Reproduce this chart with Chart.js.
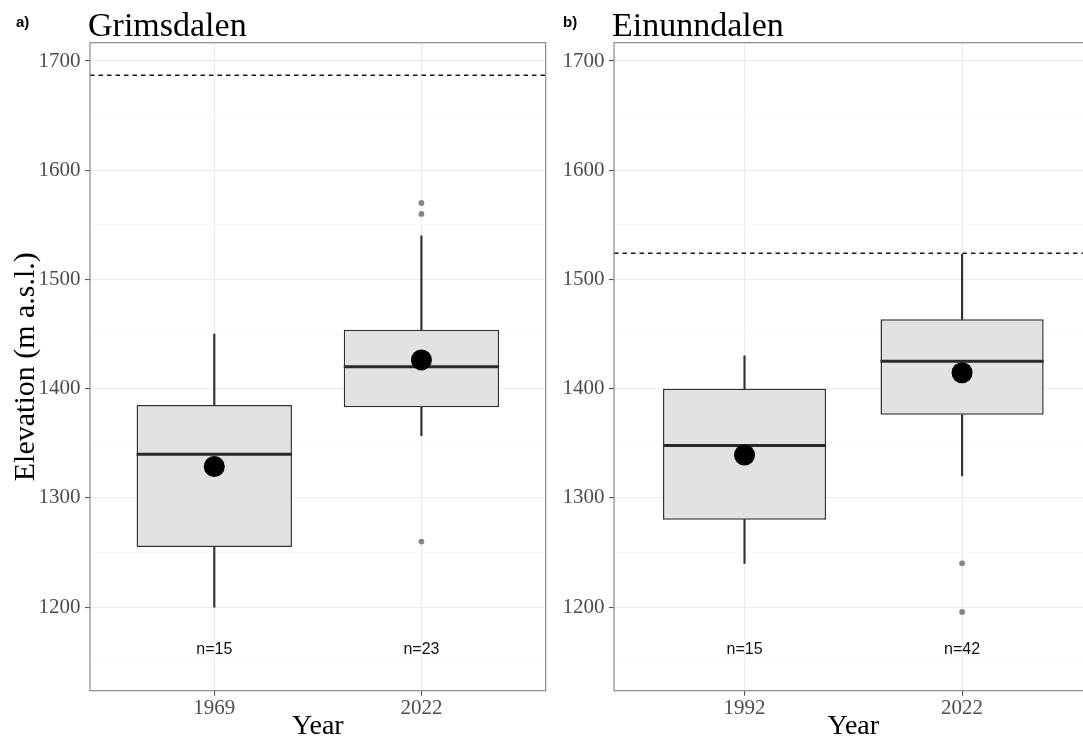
<!DOCTYPE html>
<html><head><meta charset="utf-8">
<script src="https://cdn.jsdelivr.net/npm/chart.js@4.4.1/dist/chart.umd.min.js"></script>
<style>
html,body{margin:0;padding:0;background:#fff;overflow:hidden;width:1083px;height:740px;}
#wrap{position:relative;width:1083px;height:740px;overflow:hidden;background:#fff;}
canvas{position:absolute;top:0;}
#ca{left:0;} #cb{left:552px;}
</style></head><body>
<div id="wrap"><canvas id="ca" width="560" height="740"></canvas><canvas id="cb" width="570" height="740"></canvas></div>
<script>
// ---------- data : panel a) Grimsdalen ----------
const yearsA = ['1969', '2022'];
const q1A = [1255, 1383];
const medianA = [1340, 1420];
const q3A = [1385, 1454];
const whiskerLowA = [1200, 1357];
const whiskerHighA = [1450, 1540];
const meanA = [1328.7, 1426.3];
const outliersA = [[], [1570, 1560, 1260]];
const countsA = [15, 23];
const refLineA = 1687;

// ---------- data : panel b) Einunndalen ----------
const yearsB = ['1992', '2022'];
const q1B = [1280, 1376];
const medianB = [1348, 1425];
const q3B = [1400, 1463.5];
const whiskerLowB = [1240, 1320];
const whiskerHighB = [1430, 1523];
const meanB = [1339.2, 1414.6];
const outliersB = [[], [1240, 1195.5]];
const countsB = [15, 42];
const refLineB = 1524;

// ---------- axis ticks ----------
const yMajorTicks = [1200, 1300, 1400, 1500, 1600, 1700];
const yMinorTicks = [1150, 1250, 1350, 1450, 1550, 1650];

const SERIF = "'Liberation Serif', 'Times New Roman', serif";
const SANS = "'Liberation Sans', Arial, sans-serif";
const BOX_WIDTH = 0.75;

function makePanel(canvasId, p) {
  const cats = p.years.map((_, i) => i + 1);
  const deco = {
    id: 'deco' + canvasId,
    afterDraw(chart) {
      const {ctx, chartArea: a, scales: {x, y}} = chart;
      ctx.save();
      // dashed reference line
      ctx.strokeStyle = '#1a1a1a';
      ctx.lineWidth = 1.4;
      ctx.setLineDash([4.5, 4]);
      const yl = y.getPixelForValue(p.refLine);
      ctx.beginPath(); ctx.moveTo(a.left, yl); ctx.lineTo(a.right, yl); ctx.stroke();
      ctx.setLineDash([]);
      // panel border
      ctx.strokeStyle = '#7f7f7f';
      ctx.lineWidth = 1.1;
      ctx.strokeRect(a.left, a.top, a.right - a.left, a.bottom - a.top);
      // n labels
      ctx.fillStyle = '#111';
      ctx.font = '16px ' + SANS;
      ctx.textAlign = 'center';
      ctx.textBaseline = 'middle';
      p.counts.forEach((n, i) => {
        ctx.fillText('n=' + n, x.getPixelForValue(cats[i]), y.getPixelForValue(p.labelY));
      });
      // panel letter + title
      ctx.textAlign = 'left';
      ctx.textBaseline = 'alphabetic';
      ctx.fillStyle = '#000';
      ctx.font = 'bold 15px ' + SANS;
      ctx.fillText(p.letter, p.letterX, 27);
      ctx.font = '34px ' + SERIF;
      ctx.fillText(p.title, a.left - 2, 36);
      ctx.restore();
    }
  };

  const whiskerData = [];
  cats.forEach((c, i) => {
    whiskerData.push({x: c, y: [p.wLow[i], p.q1[i]]});
    whiskerData.push({x: c, y: [p.q3[i], p.wHigh[i]]});
  });
  const outlierData = [];
  p.outliers.forEach((arr, i) => arr.forEach(v => outlierData.push({x: cats[i], y: v})));

  const allY = yMajorTicks.concat(yMinorTicks).sort((a, b) => a - b);

  return new Chart(document.getElementById(canvasId), {
    type: 'scatter',
    data: {
      datasets: [
        {type: 'scatter', label: 'mean', data: p.mean.map((m, i) => ({x: cats[i], y: m})),
          pointRadius: 10.5, pointBackgroundColor: '#000', pointBorderWidth: 0, order: 0},
        {type: 'scatter', label: 'outliers', data: outlierData,
          pointRadius: 2.9, pointBackgroundColor: '#858585', pointBorderWidth: 0, order: 1},
        {type: 'scatter', label: 'median', data: p.median.map((m, i) => ({x: cats[i], y: m})),
          pointStyle: 'line', pointBorderColor: '#2a2a2a', pointBorderWidth: 3,
          pointRadius: (ctx) => {
            const xs = ctx.chart.scales.x;
            return Math.abs(xs.getPixelForValue(1 + BOX_WIDTH / 2) - xs.getPixelForValue(1));
          }, order: 2},
        {type: 'bar', label: 'box', data: p.q1.map((v, i) => ({x: cats[i], y: [v, p.q3[i]]})),
          grouped: false, barPercentage: BOX_WIDTH, categoryPercentage: 1,
          backgroundColor: '#E2E2E2', borderColor: '#333333', borderWidth: 1.5,
          borderSkipped: false, order: 3},
        {type: 'bar', label: 'whiskers', data: whiskerData,
          grouped: false, barThickness: 1.5, categoryPercentage: 1,
          backgroundColor: '#333333', borderWidth: 0, order: 4}
      ]
    },
    options: {
      responsive: false,
      animation: false,
      events: [],
      layout: {padding: {top: 42.7, left: 0, right: p.padRight, bottom: 0}},
      plugins: {legend: {display: false}, tooltip: {enabled: false}},
      scales: {
        x: {
          type: 'linear', min: 0.4, max: 2.6, offset: false,
          afterBuildTicks: (s) => { s.ticks = cats.map(v => ({value: v})); },
          afterFit: (s) => { s.height = 49.3; },
          ticks: {
            autoSkip: false, maxRotation: 0, padding: 0,
            color: '#4D4D4D', font: {family: SERIF, size: 21},
            callback: (v) => p.years[Math.round(v) - 1]
          },
          grid: {color: '#EBEBEB', lineWidth: 1.1, tickColor: '#555', tickLength: 5, offset: false},
          border: {display: false},
          title: {display: true, text: 'Year', color: '#000',
            font: {family: SERIF, size: 28, lineHeight: 0.93}, padding: {top: 0, bottom: 0}}
        },
        y: {
          type: 'linear', min: 1123.4, max: 1716.8,
          afterBuildTicks: (s) => { s.ticks = allY.map(v => ({value: v})); },
          afterFit: (s) => { s.width = p.yAxisWidth; },
          ticks: {
            autoSkip: false, padding: 4.5, color: '#4D4D4D', font: {family: SERIF, size: 21},
            callback: (v) => yMajorTicks.includes(v) ? String(v) : ''
          },
          grid: {
            color: (c) => yMajorTicks.includes(c.tick.value) ? '#EBEBEB' : '#F3F3F3',
            lineWidth: (c) => yMajorTicks.includes(c.tick.value) ? 1.1 : 0.7,
            tickColor: (c) => yMajorTicks.includes(c.tick.value) ? '#555' : 'rgba(0,0,0,0)',
            tickLength: 5
          },
          border: {display: false},
          title: {display: p.yTitle, text: 'Elevation (m a.s.l.)', color: '#000',
            font: {family: SERIF, size: 30, lineHeight: 1.2}, padding: {top: 8, bottom: 0}}
        }
      }
    },
    plugins: [deco]
  });
}

makePanel('ca', {
  years: yearsA, q1: q1A, median: medianA, q3: q3A, wLow: whiskerLowA, wHigh: whiskerHighA,
  mean: meanA, outliers: outliersA, counts: countsA, refLine: refLineA,
  letter: 'a)', title: 'Grimsdalen', letterX: 16, labelY: 1161,
  yAxisWidth: 90, padRight: 14.3, yTitle: true
});
makePanel('cb', {
  years: yearsB, q1: q1B, median: medianB, q3: q3B, wLow: whiskerLowB, wHigh: whiskerHighB,
  mean: meanB, outliers: outliersB, counts: countsB, refLine: refLineB,
  letter: 'b)', title: 'Einunndalen', letterX: 11, labelY: 1161,
  yAxisWidth: 62, padRight: 29.4, yTitle: false
});
</script>
</body></html>
